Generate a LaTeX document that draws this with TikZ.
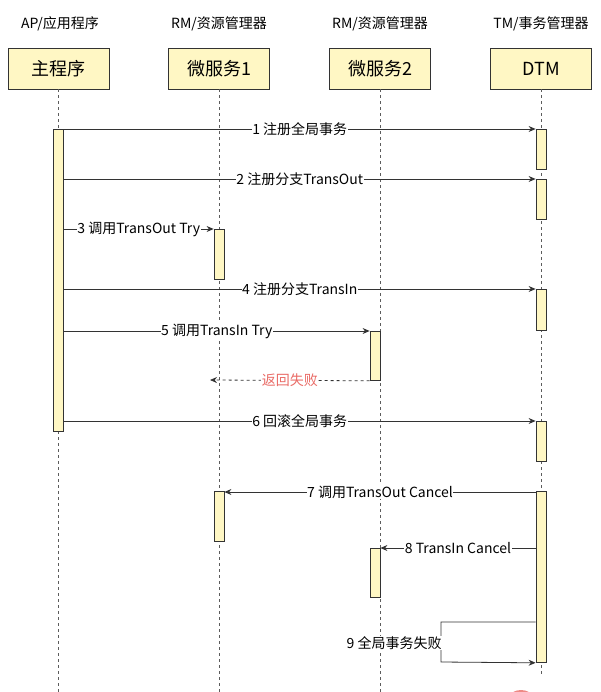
\documentclass[tikz,border=0pt]{standalone}
\usepackage{fontspec}
\setmainfont{Noto Sans CJK SC}
\usetikzlibrary{arrows.meta}
\definecolor{actfill}{HTML}{FFF7C4}
\definecolor{linec}{HTML}{333333}
\definecolor{failred}{HTML}{EA6B66}
\tikzset{
  head/.style={font=\fontsize{14}{16}\selectfont, anchor=center},
  partbox/.style={draw=linec, fill=actfill, line width=0.8pt, minimum width=101pt, minimum height=41pt, font=\fontsize{18}{20}\selectfont, inner sep=0pt},
  lifeline/.style={draw=linec!80, line width=0.8pt, dash pattern=on 3pt off 3pt},
  act/.style={draw=linec, fill=actfill, line width=0.8pt},
  msg/.style={draw=linec, line width=0.8pt, -{Stealth[length=7pt,width=6pt]}},
  ret/.style={msg, dash pattern=on 3pt off 3pt},
  lbl/.style={fill=white, inner sep=0.5pt, font=\fontsize{14}{16}\selectfont}
}
\begin{document}
\begin{tikzpicture}[x=1pt,y=-1pt]
\useasboundingbox (0,0) rectangle (600,692);
% red blob at bottom
\begin{scope}
\clip (0,0) rectangle (600,692);
\fill[failred!80] (521,698) ellipse (12 and 8);
\end{scope}
% headings
\node[head] (h1) at (60,24) {AP/应用程序};
\node[head] (h2) at (219,24) {RM/资源管理器};
\node[head] (h3) at (380,24) {RM/资源管理器};
\node[head] (h4) at (541,24) {TM/事务管理器};
% participants
\node[partbox] (p1) at (58.5,68.5) {主程序};
\node[partbox] (p2) at (219,68.5) {微服务1};
\node[partbox] (p3) at (380,68.5) {微服务2};
\node[partbox] (p4) at (541,68.5) {DTM};
% lifelines
\coordinate (e1) at (58.5,692);
\coordinate (e2) at (219,692);
\coordinate (e3) at (380,692);
\coordinate (e4) at (541,676);
\draw[lifeline] (p1.south) -- (e1);
\draw[lifeline] (p2.south) -- (e2);
\draw[lifeline] (p3.south) -- (e3);
\draw[lifeline] (p4.south) -- (e4);
% activations
\node[act, minimum width=10pt, minimum height=302pt, inner sep=0pt, anchor=north] (a1) at (58.5,129) {};
\node[act, minimum width=10pt, minimum height=40pt, inner sep=0pt, anchor=north] (d1) at (541,129) {};
\node[act, minimum width=10pt, minimum height=40pt, inner sep=0pt, anchor=north] (d2) at (541,179) {};
\node[act, minimum width=10pt, minimum height=50pt, inner sep=0pt, anchor=north] (s1) at (219,229) {};
\node[act, minimum width=10pt, minimum height=41pt, inner sep=0pt, anchor=north] (d3) at (541,289) {};
\node[act, minimum width=10pt, minimum height=49pt, inner sep=0pt, anchor=north] (t1) at (375,331) {};
\node[act, minimum width=10pt, minimum height=40pt, inner sep=0pt, anchor=north] (d4) at (541,421) {};
\node[act, minimum width=10pt, minimum height=171pt, inner sep=0pt, anchor=north] (d5) at (541,491) {};
\node[act, minimum width=10pt, minimum height=50pt, inner sep=0pt, anchor=north] (s2) at (219,491) {};
\node[act, minimum width=10pt, minimum height=49pt, inner sep=0pt, anchor=north] (t2) at (375,548) {};
% messages
\draw[msg] (a1.north east) -- node[lbl] {1 注册全局事务} (d1.north west);
\draw[msg] (a1.east |- d2.north) -- node[lbl] {2 注册分支TransOut} (d2.north west);
\draw[msg] (a1.east |- s1.north) -- node[lbl] {3 调用TransOut Try} (s1.north west);
\draw[msg] (a1.east |- d3.north) -- node[lbl] {4 注册分支TransIn} (d3.north west);
\draw[msg] (a1.east |- t1.north) -- node[lbl] {5 调用TransIn Try} (t1.north west);
\coordinate (r1) at (210,380);
\draw[ret] (t1.south west) -- node[lbl, text=failred] {返回失败} (r1);
\draw[msg] (a1.east |- d4.north) -- node[lbl] {6 回滚全局事务} (d4.north west);
\draw[msg] (d5.west |- 0,492) -- node[lbl] {7 调用TransOut Cancel} (s2.east |- 0,492);
\draw[msg] (d5.west |- t2.north) -- node[lbl] {8 TransIn Cancel} (t2.north east);
\coordinate (c1) at (441,622);
\coordinate (c2) at (441,662);
\draw[msg] (d5.west |- c1) -- (c1) -- node[lbl, anchor=east, inner sep=0pt, xshift=1pt, yshift=-1pt] {9 全局事务失败} (c2) -- (d5.south west);
\end{tikzpicture}
\end{document}
